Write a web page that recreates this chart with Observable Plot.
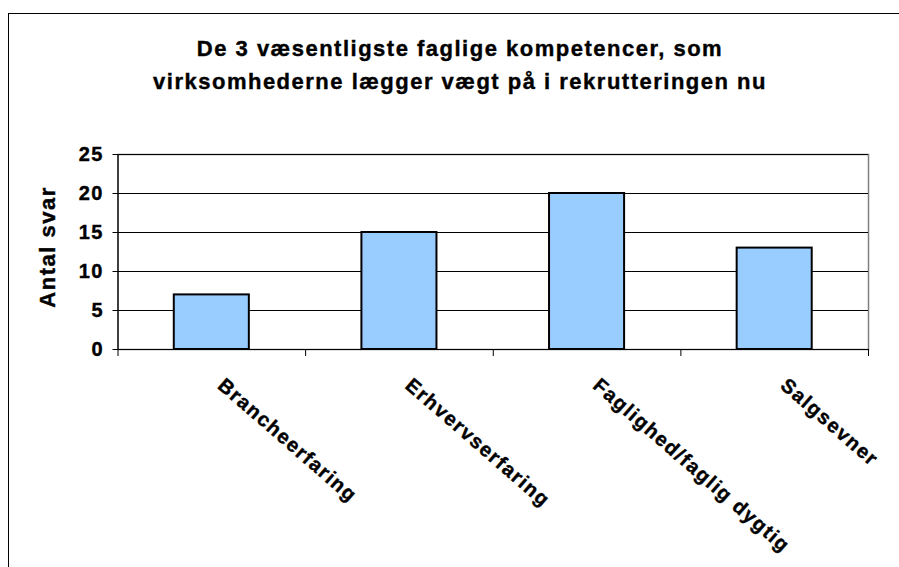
<!DOCTYPE html>
<html>
<head>
<meta charset="utf-8">
<script src="https://cdn.jsdelivr.net/npm/d3@7"></script>
<script src="https://cdn.jsdelivr.net/npm/@observablehq/plot@0.6"></script>
<style>
  html, body { margin: 0; padding: 0; background: #fff; overflow: hidden; }
  #wrap { position: relative; width: 899px; height: 567px; overflow: hidden; font-family: "Liberation Sans", Arial, sans-serif; }
  #frame { position: absolute; left: 8px; top: 13px; width: 1000px; height: 700px; border-left: 1.5px solid #000; border-top: 1.5px solid #000; }
  #title { position: relative; width: 920px; height: 120px; text-align: center; font-weight: bold; font-size: 22px; letter-spacing: 1.5px; line-height: 33px; box-sizing: border-box; -webkit-text-stroke: 0.4px #000; }
  #title div:first-child { padding-top: 32px; }
  #chart { position: relative; }
  #chart svg text { stroke: #000; stroke-width: 0.4px; }
</style>
</head>
<body>
<div id="wrap">
  <div id="frame"></div>
  <div id="title"><div>De 3 væsentligste faglige kompetencer, som</div><div>virksomhederne lægger vægt på i rekrutteringen nu</div></div>
  <div id="chart"></div>
</div>
<script>
const categories = ["Brancheerfaring", "Erhvervserfaring", "Faglighed/faglig dygtig", "Salgsevner"];
const values = [7, 15, 20, 13];
const yTicks = [0, 5, 10, 15, 20, 25];
const yLabel = "Antal svar";

const data = categories.map((c, i) => ({category: c, index: i, value: values[i]}));
const fam = "'Liberation Sans', Arial, sans-serif";

const plot = Plot.plot({
  width: 899,
  height: 447,
  marginTop: 34,
  marginBottom: 218,
  marginLeft: 117.5,
  marginRight: 31,
  style: {background: "transparent", fontFamily: fam, fontWeight: "bold", fontSize: "20px", letterSpacing: "1.5px", overflow: "visible"},
  x: {domain: [0, categories.length], axis: null},
  y: {domain: [0, 25], axis: null},
  marks: [
    Plot.frame({stroke: "#808080", strokeWidth: 1.5}),
    Plot.gridY(yTicks.slice(1), {stroke: "#000", strokeOpacity: 1, strokeWidth: 1}),
    Plot.rectY(data, {x1: d => d.index + 0.3, x2: d => d.index + 0.7, y: "value", fill: "#99CCFF", stroke: "#000", strokeWidth: 2}),
    Plot.ruleY([0], {stroke: "#000", strokeWidth: 1.2}),
    Plot.ruleX([0], {stroke: "#000", strokeWidth: 1.2}),
    Plot.axisY({ticks: yTicks, label: null, tickSize: 5, tickPadding: 9, fontSize: 20, tickFormat: d => d}),
    Plot.axisX({ticks: d3.range(0, categories.length + 1), label: null, tickSize: 7, tickFormat: () => ""}),
    Plot.text(data, {x: d => d.index + 0.5, text: "category", frameAnchor: "bottom", rotate: 41, textAnchor: "start", lineAnchor: "top", dx: 14, dy: 27, fontSize: 20, fontWeight: "bold"}),
    Plot.text([yLabel], {text: d => d, frameAnchor: "left", rotate: -90, textAnchor: "middle", lineAnchor: "middle", dx: -70.5, dy: -5, fontSize: 22, fontWeight: "bold"})
  ]
});
document.getElementById("chart").appendChild(plot);
</script>
</body>
</html>
